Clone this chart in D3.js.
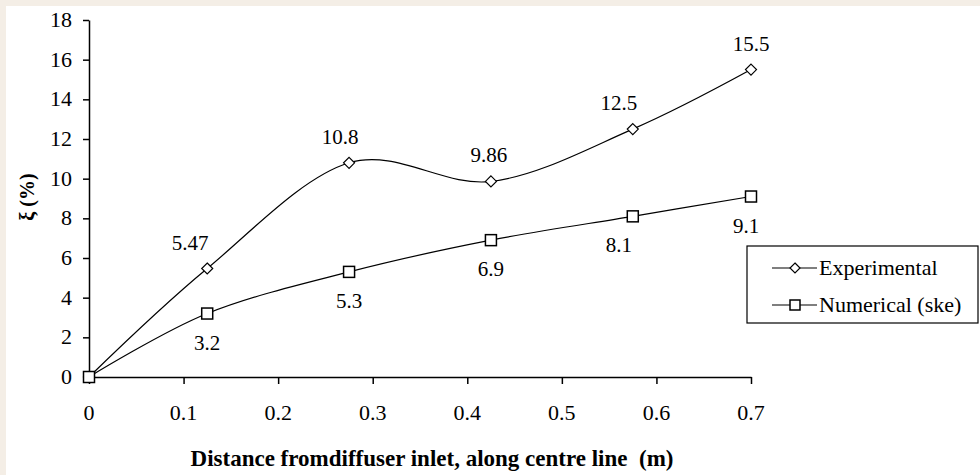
<!DOCTYPE html>
<html>
<head>
<meta charset="utf-8">
<script src="https://cdn.jsdelivr.net/npm/d3@7"></script>
<style>
  body { margin: 0; background: #fff; }
  #chart { position: relative; width: 980px; height: 475px; }
  svg { display: block; position: absolute; left: 0; top: 0; }
  .lbl {
    position: absolute;
    line-height: 1;
    white-space: pre;
    color: #000;
  }
</style>
</head>
<body>
<div id="chart"></div>
<script>
const distances = [0, 0.125, 0.275, 0.425, 0.575, 0.7];
const experimental = [0, 5.47, 10.8, 9.86, 12.5, 15.5];
const numerical = [0, 3.2, 5.3, 6.9, 8.1, 9.1];
const expLabels = ["", "5.47", "10.8", "9.86", "12.5", "15.5"];
const numLabels = ["", "3.2", "5.3", "6.9", "8.1", "9.1"];
const xTicks = [0, 0.1, 0.2, 0.3, 0.4, 0.5, 0.6, 0.7];
const yTicks = [0, 2, 4, 6, 8, 10, 12, 14, 16, 18];
const seriesNames = ["Experimental", "Numerical (ske)"];

const width = 980;
const height = 475;
const margin = { top: 20, left: 89 };
const serif = "'Liberation Serif', serif";

const chart = d3.select("#chart");

const svg = chart
  .append("svg")
  .attr("width", width)
  .attr("height", height);

// html text layer
function addLabel(x, y, text, opts = {}) {
  const anchor = opts.anchor || "middle";
  const tx = anchor === "middle" ? "-50%" : anchor === "end" ? "-100%" : "0";
  return chart.append("div")
    .attr("class", "lbl")
    .style("font-family", serif)
    .style("left", x + "px")
    .style("top", y + "px")
    .style("font-size", (opts.size || 21) + "px")
    .style("font-weight", opts.bold ? "bold" : "normal")
    .style("transform", `translate(${tx}, -50%)` + (opts.extra || ""))
    .text(text);
}

// faint watermark edges
svg.append("rect").attr("x", 0).attr("y", 0).attr("width", width).attr("height", 6).attr("fill", "#f4eee6");
svg.append("rect").attr("x", 0).attr("y", 0).attr("width", 6).attr("height", height).attr("fill", "#f4eee6");

const xScale = d3.scaleLinear()
  .domain([0, 0.7])
  .range([margin.left, 751]);

const yScale = d3.scaleLinear()
  .domain([0, 18])
  .range([377, margin.top]);

const yAxis = d3.axisLeft(yScale)
  .tickValues(yTicks)
  .tickSize(6)
  .tickSizeOuter(0);

const xAxis = d3.axisBottom(xScale)
  .tickValues(xTicks)
  .tickSize(7)
  .tickSizeOuter(0);

const gy = svg.append("g")
  .attr("transform", `translate(${margin.left},0)`)
  .call(yAxis);

const gx = svg.append("g")
  .attr("transform", `translate(0,${yScale(0)})`)
  .call(xAxis);

[gx, gy].forEach(g => {
  g.selectAll("path, line").attr("stroke", "#000").attr("stroke-width", 1.5);
  g.selectAll("text").remove();
});

yTicks.forEach(t => addLabel(72, yScale(t), d3.format("d")(t), { anchor: "end", size: 22 }));
xTicks.forEach(t => addLabel(xScale(t), 413, t === 0 ? "0" : d3.format(".1f")(t), { size: 22 }));

const line = d3.line()
  .x((d, i) => xScale(distances[i]))
  .y(d => yScale(d))
  .curve(d3.curveCardinal.tension(0));

svg.append("path")
  .datum(experimental)
  .attr("d", line)
  .attr("fill", "none")
  .attr("stroke", "#000")
  .attr("stroke-width", 1.2);

svg.append("path")
  .datum(numerical)
  .attr("d", line)
  .attr("fill", "none")
  .attr("stroke", "#000")
  .attr("stroke-width", 1.2);

const diamond = s => `M0,${-s}L${s},0L0,${s}L${-s},0Z`;

svg.selectAll(".exp-marker")
  .data(experimental)
  .enter()
  .append("path")
  .attr("class", "exp-marker")
  .attr("transform", (d, i) => `translate(${xScale(distances[i])},${yScale(d)})`)
  .attr("d", diamond(5.5))
  .attr("fill", "#fff")
  .attr("stroke", "#000")
  .attr("stroke-width", 1.2);

svg.selectAll(".num-marker")
  .data(numerical)
  .enter()
  .append("rect")
  .attr("class", "num-marker")
  .attr("x", (d, i) => xScale(distances[i]) - 5.5)
  .attr("y", d => yScale(d) - 5.5)
  .attr("width", 11)
  .attr("height", 11)
  .attr("fill", "#fff")
  .attr("stroke", "#000")
  .attr("stroke-width", 1.5);

// data labels: experimental above, numerical below
const expShift = [0, -17, -9, -2, -14, 0];
experimental.forEach((d, i) => {
  if (expLabels[i]) addLabel(xScale(distances[i]) + expShift[i], yScale(d) - 26, expLabels[i], { size: 21 });
});

const numShift = [0, 0, 0, 0, -14, -5];
numerical.forEach((d, i) => {
  if (numLabels[i]) addLabel(xScale(distances[i]) + numShift[i], yScale(d) + 29, numLabels[i], { size: 21 });
});

// axis titles
addLabel(432, 458, "Distance fromdiffuser inlet, along centre line  (m)", { size: 23, bold: true });

chart.append("div")
  .attr("class", "lbl")
  .style("font-family", serif)
  .style("left", "27px")
  .style("top", "197px")
  .style("font-size", "20px")
  .style("font-weight", "bold")
  .style("transform", "translate(-50%, -50%) rotate(-90deg)")
  .text("ξ (%)");

// legend
const legend = svg.append("g").attr("transform", "translate(747,246)");
legend.append("rect")
  .attr("width", 231)
  .attr("height", 77)
  .attr("fill", "#fff")
  .attr("stroke", "#000")
  .attr("stroke-width", 1.2);

const legendItems = legend.selectAll(".item")
  .data(seriesNames)
  .enter()
  .append("g")
  .attr("class", "item")
  .attr("transform", (d, i) => `translate(25,${22 + i * 37})`);

legendItems.append("line")
  .attr("x1", 0).attr("x2", 45)
  .attr("stroke", "#000").attr("stroke-width", 1.2);

legendItems.filter((d, i) => i === 0)
  .append("path")
  .attr("transform", "translate(23,0)")
  .attr("d", diamond(5))
  .attr("fill", "#fff").attr("stroke", "#000").attr("stroke-width", 1.2);

legendItems.filter((d, i) => i === 1)
  .append("rect")
  .attr("x", 18).attr("y", -5).attr("width", 10).attr("height", 10)
  .attr("fill", "#fff").attr("stroke", "#000").attr("stroke-width", 1.5);

seriesNames.forEach((name, i) => {
  addLabel(747 + 25 + 47, 246 + 22 + i * 37, name, { anchor: "start", size: 22 });
});
</script>
</body>
</html>
